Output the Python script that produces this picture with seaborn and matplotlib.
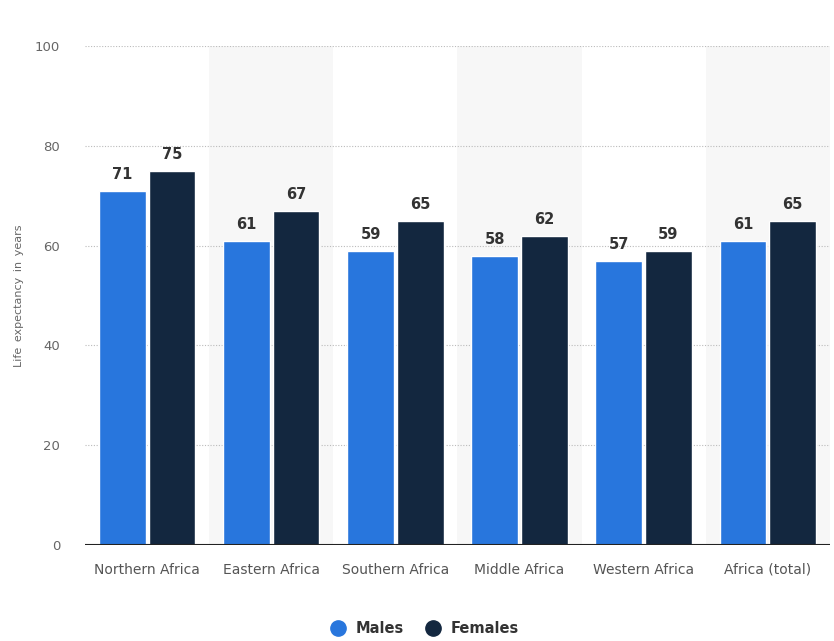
import pandas as pd
import matplotlib.pyplot as plt
import seaborn as sns
from matplotlib.lines import Line2D

# data
regions = ['Northern Africa', 'Eastern Africa', 'Southern Africa',
           'Middle Africa', 'Western Africa', 'Africa (total)']
males = [71, 61, 59, 58, 57, 61]
females = [75, 67, 65, 62, 59, 65]
yticks = [0, 20, 40, 60, 80, 100]

df = pd.DataFrame({'region': regions * 2,
                   'sex': ['Males'] * len(regions) + ['Females'] * len(regions),
                   'value': males + females})

sns.set_style('white')
plt.rcParams['font.family'] = ['DejaVu Sans']

fig = plt.figure(figsize=(8.34, 6.41), dpi=100)
ax = fig.add_axes([0.102, 0.150, 0.893, 0.778])

colors = {'Males': '#2876dd', 'Females': '#13273f'}

# alternating background bands
for i in range(len(regions)):
    if i % 2 == 1:
        ax.axvspan(i - 0.5, i + 0.5, color='#f7f7f7', zorder=0, lw=0)

sns.barplot(data=df, x='region', y='value', hue='sex', palette=colors,
            saturation=1, width=0.8, gap=0.06, ax=ax, legend=False, zorder=3)

for cont in ax.containers:
    ax.bar_label(cont, fmt='%d', padding=6, fontsize=10.5, fontweight='bold',
                 color='#333333')

ax.set_xlim(-0.5, len(regions) - 0.5)
ax.set_ylim(0, 100)
ax.set_yticks(yticks)
ax.set_yticklabels([str(t) for t in yticks], color='#666666', fontsize=9.5)
ax.tick_params(axis='y', length=0, pad=18)
ax.tick_params(axis='x', length=0, pad=13, labelsize=10, labelcolor='#555555')
ax.set_xlabel('')
ax.set_ylabel('Life\u2002expectancy\u2002in\u2002years', fontsize=8,
              color='#666666', labelpad=8)

for t in yticks[1:]:
    ax.axhline(t, color='#bbbbbb', ls=(0, (1, 1.5)), lw=0.8, zorder=1)
ax.axhline(0, color='#222222', lw=1.5, zorder=4)

for s in ax.spines.values():
    s.set_visible(False)

handles = [Line2D([], [], marker='o', ls='', markersize=11,
                  markerfacecolor=colors[k], markeredgecolor=colors[k])
           for k in ['Males', 'Females']]
leg = fig.legend(handles, ['Males', 'Females'], loc='center',
                 bbox_to_anchor=(0.505, 0.02), ncol=2, frameon=False,
                 fontsize=10.5, handletextpad=0.2, columnspacing=1.0)
for txt in leg.get_texts():
    txt.set_fontweight('bold')
    txt.set_color('#333333')

fig.savefig('out.png', dpi=100)
